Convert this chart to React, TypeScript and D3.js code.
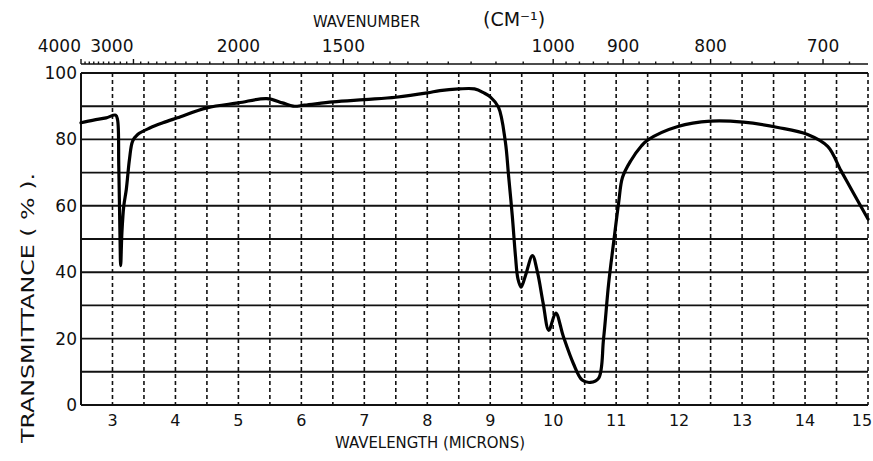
import React, { useEffect, useRef } from 'react';
import * as d3 from 'd3';

// IR spectrum, transmittance vs wavelength (microns), wavenumber ruler on top

const wavelength = [
  2.5, 2.7, 2.9, 3.05, 3.08, 3.1, 3.12, 3.13, 3.15, 3.18, 3.22, 3.27, 3.32, 3.4,
  3.6, 3.8, 4.03, 4.5, 5.0, 5.45, 5.7, 5.87, 6.05, 6.5, 7.0, 7.5, 8.0, 8.2, 8.5,
  8.75, 8.9, 9.0, 9.13, 9.24, 9.29, 9.35, 9.4, 9.44, 9.49, 9.56, 9.67, 9.75,
  9.84, 9.93, 10.04, 10.16, 10.32, 10.46, 10.59, 10.72, 10.8, 10.88, 10.96,
  11.04, 11.1, 11.23, 11.4, 11.5, 11.98, 12.5, 13.02, 13.57, 14.04, 14.36,
  14.57, 14.77, 15.0
];
const transmittance = [
  85, 85.8, 86.5, 87.3, 86, 72, 50, 42, 52, 60, 65, 74, 79.5, 81.5,
  83.5, 85, 86.5, 89.5, 91, 92.3, 91, 90, 90.3, 91.3, 92, 92.7, 94, 94.7, 95.2,
  95.2, 94, 92.8, 89.7, 79.3, 69.3, 57, 45, 38, 35.5, 39, 45, 40,
  30.7, 22.5, 27.7, 20.7, 12.5, 7.5, 6.8, 8, 20, 36.5, 49,
  61, 68.5, 73.5, 78, 79.8, 83.9, 85.5, 85.2, 83.6, 81.5, 77.9,
  70.6, 63.8, 56
];
const micronTicks = [3, 4, 5, 6, 7, 8, 9, 10, 11, 12, 13, 14, 15];
const percentTicks = [0, 20, 40, 60, 80, 100];
const wavenumberLabels = [4000, 3000, 2000, 1500, 1000, 900, 800, 700];

export default function App() {
  const ref = useRef<SVGSVGElement>(null);

  useEffect(() => {
    const svg = d3.select(ref.current);
    svg.selectAll('*').remove();
    const font = "'DejaVu Sans', sans-serif";
    const ink = '#111';
    const W = 873;

    const x = d3.scaleLinear().domain([2.5, 15]).range([81, 868]);
    const y = d3.scaleLinear().domain([0, 100]).range([405, 73]);

    // horizontal grid, solid
    svg.append('g').selectAll('line')
      .data(d3.range(0, 101, 10))
      .enter().append('line')
      .attr('x1', x(2.5)).attr('x2', x(15))
      .attr('y1', (d) => y(d)).attr('y2', (d) => y(d))
      .attr('stroke', ink).attr('stroke-width', 1.9);

    // vertical grid every half micron, dashed
    svg.append('g').selectAll('line')
      .data(d3.range(3, 15.01, 0.5))
      .enter().append('line')
      .attr('x1', (d) => x(d)).attr('x2', (d) => x(d))
      .attr('y1', y(100)).attr('y2', y(0))
      .attr('stroke', ink).attr('stroke-width', 1.6)
      .attr('stroke-dasharray', '4,3');

    // left frame
    svg.append('line')
      .attr('x1', x(2.5)).attr('x2', x(2.5))
      .attr('y1', y(100)).attr('y2', y(0))
      .attr('stroke', ink).attr('stroke-width', 2);

    // wavenumber ruler
    const rulerY = y(100) - 9;
    const wx = (w: number) => x(10000 / w);
    svg.append('line')
      .attr('x1', x(2.5)).attr('x2', x(15))
      .attr('y1', rulerY).attr('y2', rulerY)
      .attr('stroke', ink).attr('stroke-width', 1.5);
    const minor = [
      ...d3.range(4000, 2000, -100),
      ...d3.range(2000, 1000, -50),
      ...d3.range(1000, 666, -20)
    ];
    svg.append('g').selectAll('line')
      .data(minor)
      .enter().append('line')
      .attr('x1', (d) => wx(d)).attr('x2', (d) => wx(d))
      .attr('y1', rulerY).attr('y2', (d) => rulerY - (wavenumberLabels.includes(d) ? 5 : 2.5))
      .attr('stroke', ink).attr('stroke-width', 1.4);

    svg.append('g').selectAll('text')
      .data(wavenumberLabels)
      .enter().append('text')
      .attr('x', (d) => wx(d))
      .attr('y', 52)
      .attr('text-anchor', (d) => (d >= 3000 ? 'end' : 'middle'))
      .attr('font-family', font).attr('font-size', 17).attr('fill', ink)
      .text((d) => d);

    svg.append('text')
      .attr('x', 313).attr('y', 27)
      .attr('font-family', font).attr('font-size', 15).attr('fill', ink)
      .attr('textLength', 107).attr('lengthAdjust', 'spacingAndGlyphs')
      .text('WAVENUMBER');
    svg.append('text')
      .attr('x', 483).attr('y', 26)
      .attr('font-family', font).attr('font-size', 19).attr('fill', ink)
      .text('(CM⁻¹)');

    // y tick labels
    svg.append('g').selectAll('text')
      .data(percentTicks)
      .enter().append('text')
      .attr('x', 77)
      .attr('y', (d) => y(d) + 6)
      .attr('text-anchor', 'end')
      .attr('font-family', font).attr('font-size', 17).attr('fill', ink)
      .text((d) => d);

    // x tick labels (last one kept inside the window)
    svg.append('g').selectAll('text')
      .data(micronTicks)
      .enter().append('text')
      .attr('x', (d) => Math.min(x(d), W - 11))
      .attr('y', 426)
      .attr('text-anchor', 'middle')
      .attr('font-family', font).attr('font-size', 16).attr('fill', ink)
      .text((d) => d);

    svg.append('text')
      .attr('x', 335).attr('y', 448)
      .attr('font-family', font).attr('font-size', 15).attr('fill', ink)
      .attr('textLength', 190).attr('lengthAdjust', 'spacingAndGlyphs')
      .text('WAVELENGTH (MICRONS)');

    svg.append('text')
      .attr('transform', 'translate(34,443) rotate(-90)')
      .attr('font-family', font).attr('font-size', 18).attr('fill', ink)
      .attr('textLength', 270).attr('lengthAdjust', 'spacingAndGlyphs')
      .text('TRANSMITTANCE ( % ).');

    // spectrum
    const pts: [number, number][] = wavelength.map((w, i) => [w, transmittance[i]]);
    const line = d3.line<[number, number]>()
      .x((d) => x(d[0]))
      .y((d) => y(d[1]))
      .curve(d3.curveCatmullRom.alpha(0.5));
    svg.append('path')
      .attr('d', line(pts))
      .attr('fill', 'none')
      .attr('stroke', '#000')
      .attr('stroke-width', 3.2)
      .attr('stroke-linejoin', 'round')
      .attr('stroke-linecap', 'round');
  }, []);

  return (
    <svg
      ref={ref}
      width={873}
      height={461}
      style={{ position: 'absolute', left: 0, top: 0, background: '#fff' }}
    />
  );
}
